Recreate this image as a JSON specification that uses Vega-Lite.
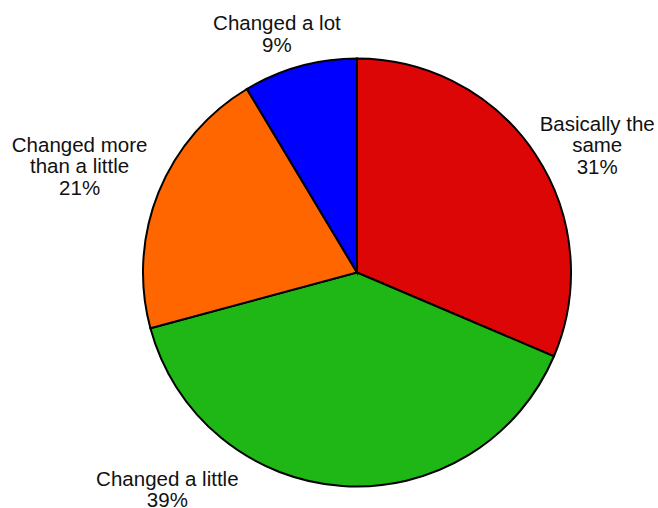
{
  "$schema": "https://vega.github.io/schema/vega-lite/v6.json",
  "autosize": {"type": "none"},
  "width": 428,
  "height": 429,
  "padding": {"left": 143, "top": 58, "right": 87, "bottom": 21},
  "background": "white",
  "config": {"view": {"stroke": null}},
  "data": {
    "values": [
      {"idx": 1, "category": "Basically the same", "value": 31.4, "label": "Basically the\nsame\n31%"},
      {"idx": 2, "category": "Changed a little", "value": 39.4, "label": "Changed a little\n39%"},
      {"idx": 3, "category": "Changed more than a little", "value": 20.6, "label": "Changed more\nthan a little\n21%"},
      {"idx": 4, "category": "Changed a lot", "value": 8.6, "label": "Changed a lot\n9%"}
    ]
  },
  "encoding": {
    "theta": {"field": "value", "type": "quantitative", "stack": true},
    "order": {"field": "idx", "type": "ordinal"},
    "color": {
      "field": "category",
      "type": "nominal",
      "scale": {
        "domain": ["Basically the same", "Changed a little", "Changed more than a little", "Changed a lot"],
        "range": ["#DD0606", "#1FB715", "#FF6600", "#0000FF"]
      },
      "legend": null
    }
  },
  "layer": [
    {"mark": {"type": "arc", "stroke": "black", "strokeWidth": 2}},
    {
      "mark": {"type": "text", "radius": 270, "dx": 15, "dy": 1, "font": "Liberation Sans", "fontSize": 20.5, "lineHeight": 21.5, "lineBreak": "\n", "align": "center", "baseline": "middle"},
      "encoding": {"color": {"value": "#111111"}, "text": {"condition": {"test": "datum.idx === 1", "field": "label"}, "value": ""}}
    },
    {
      "mark": {"type": "text", "radius": 270, "dx": -171, "dy": -62, "font": "Liberation Sans", "fontSize": 20.5, "lineHeight": 21.5, "lineBreak": "\n", "align": "center", "baseline": "middle"},
      "encoding": {"color": {"value": "#111111"}, "text": {"condition": {"test": "datum.idx === 2", "field": "label"}, "value": ""}}
    },
    {
      "mark": {"type": "text", "radius": 270, "dx": -27, "dy": -26, "font": "Liberation Sans", "fontSize": 20.5, "lineHeight": 21.5, "lineBreak": "\n", "align": "center", "baseline": "middle"},
      "encoding": {"color": {"value": "#111111"}, "text": {"condition": {"test": "datum.idx === 3", "field": "label"}, "value": ""}}
    },
    {
      "mark": {"type": "text", "radius": 270, "dx": -8, "dy": 12, "font": "Liberation Sans", "fontSize": 20.5, "lineHeight": 21.5, "lineBreak": "\n", "align": "center", "baseline": "middle"},
      "encoding": {"color": {"value": "#111111"}, "text": {"condition": {"test": "datum.idx === 4", "field": "label"}, "value": ""}}
    }
  ]
}
